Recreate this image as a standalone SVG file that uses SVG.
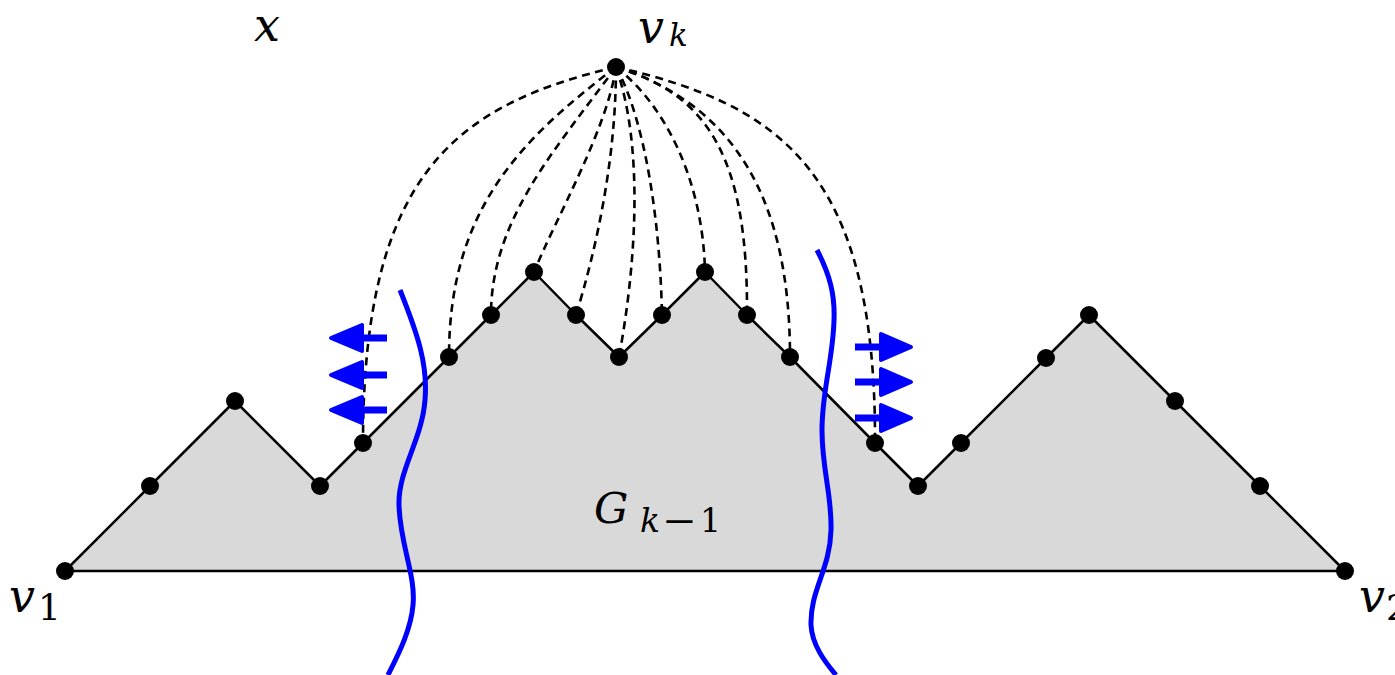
<svg xmlns="http://www.w3.org/2000/svg" width="1395" height="675" viewBox="0 0 1395 675">
<style>
.dash{fill:none;stroke:#000;stroke-width:2.6;stroke-dasharray:8 5.5}
.dot{fill:#000}
.blue{fill:none;stroke:#0000ff;stroke-width:5}
.shaft{stroke:#0000ff;stroke-width:7}
.head{fill:#0000ff;stroke:#0000ff;stroke-width:4;stroke-linejoin:round}
.mi{font-family:"DejaVu Serif","Liberation Serif",serif;font-style:italic;fill:#000}
.mr{font-family:"DejaVu Serif","Liberation Serif",serif;fill:#000}
</style>
<rect width="1395" height="675" fill="#fff"/>
<g id="G">
<polygon points="65,571 150,486 235,401 320,486 363,443 449,357 491,315 534,272 576,315 619,357 662,315 705,272 747,315 790,357 875,443 918,486 961,443 1046,358 1089,315 1175,401 1260,486 1345,571" fill="#d9d9d9" stroke="#000" stroke-width="2.5" stroke-linejoin="round"/>
</g>
<g id="connectors">
<path class="dash" d="M616,67 C455,105 363,175 363,443"/>
<path class="dash" d="M616,67 C520,140 449,210 449,357"/>
<path class="dash" d="M616,67 C555,150 491,220 491,315"/>
<path class="dash" d="M616,67 C607,130 555,220 534,272"/>
<path class="dash" d="M616,67 C616,160 596,250 576,315"/>
<path class="dash" d="M616,67 C645,150 635,270 619,357"/>
<path class="dash" d="M616,67 C645,120 660,220 662,315"/>
<path class="dash" d="M616,67 C665,105 703,180 705,272"/>
<path class="dash" d="M616,67 C710,95 748,160 747,315"/>
<path class="dash" d="M616,67 C735,105 790,200 790,357"/>
<path class="dash" d="M616,67 C780,105 876,170 875,443"/>
</g>
<g id="nodes">
<g id="vk"><circle class="dot" cx="616" cy="67" r="9"/></g>
<g id="v1"><circle class="dot" cx="65" cy="571" r="9"/></g>
<g id="n150"><circle class="dot" cx="150" cy="486" r="9"/></g>
<g id="n235"><circle class="dot" cx="235" cy="401" r="9"/></g>
<g id="n320"><circle class="dot" cx="320" cy="486" r="9"/></g>
<g id="n363"><circle class="dot" cx="363" cy="443" r="9"/></g>
<g id="n449"><circle class="dot" cx="449" cy="357" r="9"/></g>
<g id="n491"><circle class="dot" cx="491" cy="315" r="9"/></g>
<g id="n534"><circle class="dot" cx="534" cy="272" r="9"/></g>
<g id="n576"><circle class="dot" cx="576" cy="315" r="9"/></g>
<g id="n619"><circle class="dot" cx="619" cy="357" r="9"/></g>
<g id="n662"><circle class="dot" cx="662" cy="315" r="9"/></g>
<g id="n705"><circle class="dot" cx="705" cy="272" r="9"/></g>
<g id="n747"><circle class="dot" cx="747" cy="315" r="9"/></g>
<g id="n790"><circle class="dot" cx="790" cy="357" r="9"/></g>
<g id="n875"><circle class="dot" cx="875" cy="443" r="9"/></g>
<g id="n918"><circle class="dot" cx="918" cy="486" r="9"/></g>
<g id="n961"><circle class="dot" cx="961" cy="443" r="9"/></g>
<g id="n1046"><circle class="dot" cx="1046" cy="358" r="9"/></g>
<g id="n1089"><circle class="dot" cx="1089" cy="315" r="9"/></g>
<g id="n1175"><circle class="dot" cx="1175" cy="401" r="9"/></g>
<g id="n1260"><circle class="dot" cx="1260" cy="486" r="9"/></g>
<g id="v2"><circle class="dot" cx="1345" cy="571" r="9"/></g>
</g>
<g id="cuts">
<path class="blue" d="M400,290 C418,335 428,365 425,400 C422,440 398,470 399,505 C400,545 416,575 413,605 C411,630 398,655 388,675"/>
<path class="blue" d="M817,250 C830,275 835,295 834,320 C833,360 822,390 822,430 C822,470 832,495 831,530 C830,570 810,590 811,625 C812,645 825,662 836,675"/>
</g>
<g id="arrows-left">
<line class="shaft" x1="387" y1="338" x2="355" y2="338"/>
<path class="head" d="M331,338 L362,325 L362,351 Z"/>
<line class="shaft" x1="387" y1="375" x2="355" y2="375"/>
<path class="head" d="M331,375 L362,362 L362,388 Z"/>
<line class="shaft" x1="387" y1="410" x2="355" y2="410"/>
<path class="head" d="M331,410 L362,397 L362,423 Z"/>
</g>
<g id="arrows-right">
<line class="shaft" x1="855" y1="347" x2="888" y2="347"/>
<path class="head" d="M911,347 L881,334 L881,360 Z"/>
<line class="shaft" x1="855" y1="382" x2="888" y2="382"/>
<path class="head" d="M911,382 L881,369 L881,395 Z"/>
<line class="shaft" x1="855" y1="418" x2="888" y2="418"/>
<path class="head" d="M911,418 L881,405 L881,431 Z"/>
</g>
<g id="labels">
<text class="mi" x="254" y="41" font-size="46">x</text>
<text class="mi" x="638" y="43" font-size="46">v</text>
<text class="mi" x="669" y="46" font-size="31">k</text>
<text class="mi" x="9" y="612" font-size="46">v</text>
<text class="mr" x="38" y="620" font-size="36">1</text>
<text class="mi" x="1359" y="612" font-size="46">v</text>
<text class="mr" x="1386" y="620" font-size="36">2</text>
<text class="mi" x="594" y="523" font-size="43">G</text>
<text class="mi" x="640" y="532" font-size="33">k</text>
<text class="mr" x="662" y="532" font-size="33" textLength="35" lengthAdjust="spacingAndGlyphs">−</text>
<text class="mr" x="700" y="532" font-size="33">1</text>
</g>
</svg>
